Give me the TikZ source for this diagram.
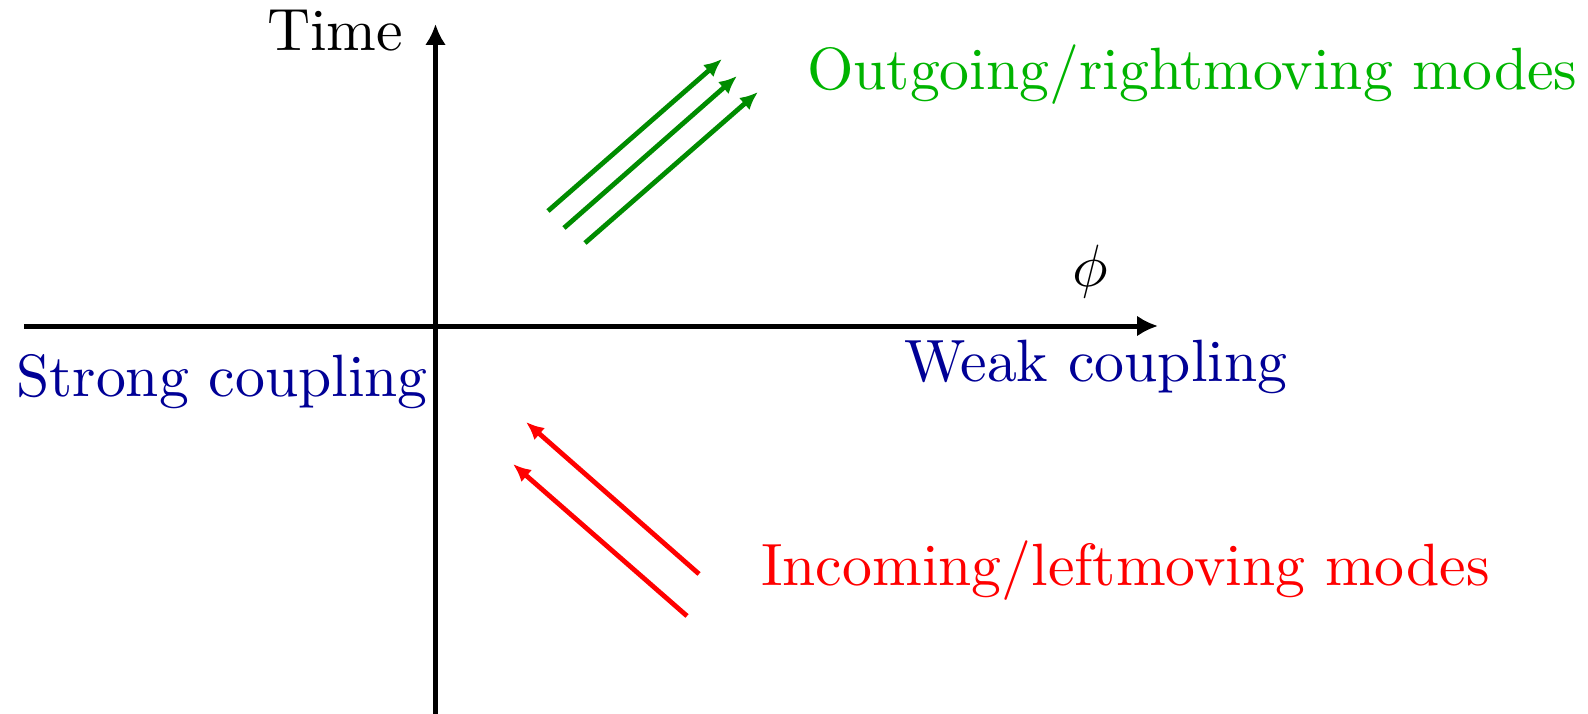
\documentclass[tikz,border=0pt]{standalone}
\usetikzlibrary{arrows.meta}
\definecolor{arrgreen}{RGB}{0,140,0}
\definecolor{txtgreen}{RGB}{0,180,0}
\definecolor{txtblue}{RGB}{0,0,150}
\definecolor{arrred}{RGB}{255,0,0}
\begin{document}
\begin{tikzpicture}[x=1pt,y=-1pt,
  axis/.style={line width=5pt,-{Latex[length=21pt,width=21pt]}},
  mode/.style={line width=4.8pt,-{Latex[length=18pt,width=16pt]}},
  lbl/.style={inner sep=0pt,scale=5.97,anchor=base west}]
\useasboundingbox (0,0) rectangle (1588,714);
% axes
\coordinate (hx0) at (24,326);
\coordinate (hx1) at (1158,326);
\coordinate (vy0) at (435.5,714);
\coordinate (vy1) at (435.5,24);
\draw[axis] (hx0) -- (hx1);
\draw[axis] (vy0) -- (vy1);
% labels
\node[lbl] (time) at (266,51) {Time};
\node[inner sep=0pt,scale=5.97] (phi) at (1090,272) {$\phi$};
\node[lbl,text=txtblue] (strong) at (15,396) {Strong coupling};
\node[lbl,text=txtblue] (weak) at (903,381.5) {Weak coupling};
\node[lbl,text=txtgreen] (out) at (806,90) {Outgoing/rightmoving modes};
\node[lbl,text=arrred] (inc) at (760,585) {Incoming/leftmoving modes};
% green arrows
\coordinate (g1a) at (548,211); \coordinate (g1b) at (722,59);
\coordinate (g2a) at (564,228); \coordinate (g2b) at (737,76);
\coordinate (g3a) at (585,243); \coordinate (g3b) at (758,92);
\draw[mode,arrgreen] (g1a) -- (g1b);
\draw[mode,arrgreen] (g2a) -- (g2b);
\draw[mode,arrgreen] (g3a) -- (g3b);
% red arrows
\coordinate (r1a) at (699,574); \coordinate (r1b) at (526,422);
\coordinate (r2a) at (687,616); \coordinate (r2b) at (513,464);
\draw[mode,arrred] (r1a) -- (r1b);
\draw[mode,arrred] (r2a) -- (r2b);
\end{tikzpicture}
\end{document}
